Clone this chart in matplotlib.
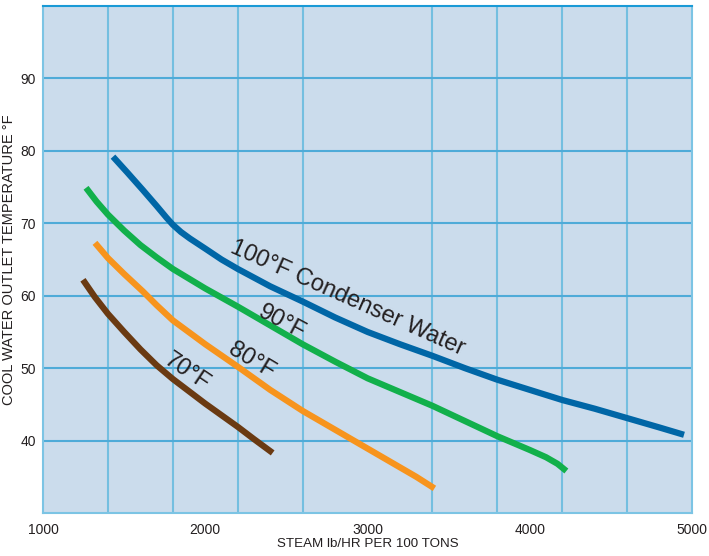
import matplotlib.pyplot as plt
import numpy as np

plt.rcParams['font.family'] = ['Liberation Sans', 'DejaVu Sans']

# values
x100 = [1431, 1520, 1615, 1700, 1760, 1800, 1850, 1905, 2000, 2100, 2200, 2400, 2600,
        2800, 3000, 3200, 3400, 3600, 3800, 4000, 4200, 4400, 4600, 4800, 4950]
y100 = [79.2, 77.0, 74.6, 72.4, 70.8, 69.8, 68.8, 67.9, 66.5, 65.0, 63.7, 61.3, 59.2,
        57.0, 55.0, 53.3, 51.7, 50.0, 48.4, 47.0, 45.6, 44.4, 43.1, 41.8, 40.8]

x90 = [1265, 1330, 1400, 1500, 1600, 1700, 1800, 2000, 2200, 2400, 2600, 2800,
       3000, 3200, 3400, 3600, 3800, 4000, 4100, 4170, 4225]
y90 = [74.9, 73.0, 71.2, 69.0, 67.0, 65.3, 63.7, 61.0, 58.5, 55.9, 53.3, 50.9,
       48.6, 46.7, 44.8, 42.7, 40.6, 38.7, 37.7, 36.8, 35.8]

x80 = [1320, 1400, 1500, 1615, 1700, 1800, 2000, 2200, 2400, 2600, 2800, 3000,
       3200, 3300, 3412]
y80 = [67.3, 65.2, 63.0, 60.6, 58.7, 56.6, 53.3, 50.2, 47.0, 44.1, 41.5, 38.9,
       36.3, 35.0, 33.4]

x70 = [1246, 1320, 1400, 1500, 1600, 1700, 1800, 1900, 2000, 2100, 2200, 2300, 2415]
y70 = [62.2, 59.8, 57.5, 55.0, 52.6, 50.4, 48.5, 46.8, 45.1, 43.5, 41.9, 40.2, 38.3]

xticks = [1000, 2000, 3000, 4000, 5000]
yticks = [40, 50, 60, 70, 80, 90]

fig = plt.figure(figsize=(7.09, 5.56), dpi=100)
ax = fig.add_axes([0.0607, 0.0773, 0.9155, 0.9119])
ax.set_facecolor('#cbdcec')

ax.set_xlim(1000, 5000)
ax.set_ylim(30, 100)
ax.set_xticks(xticks)
ax.set_xticks(np.arange(1000, 5001, 400), minor=True)
ax.set_yticks(yticks)
ax.tick_params(which='both', length=0, labelsize=10, colors='#231f20')
ax.tick_params(axis='y', pad=5)
ax.tick_params(axis='x', pad=7)
ax.grid(which='minor', axis='x', color='#74bfe0', lw=1.5)
ax.grid(which='major', axis='y', color='#4fabd8', lw=1.5)
ax.set_axisbelow(True)

for s in ['left', 'right', 'bottom']:
    ax.spines[s].set_color('#7cc4e4')
    ax.spines[s].set_linewidth(1.5)
ax.spines['top'].set_color('#1a9ad6')
ax.spines['top'].set_linewidth(1.5)

style = dict(lw=4.5, solid_capstyle='butt', solid_joinstyle='round')
ax.plot(x100, y100, color='#0066a6', **style)
ax.plot(x90, y90, color='#12b04b', **style)
ax.plot(x80, y80, color='#f7941d', **style)
ax.plot(x70, y70, color='#6a3a12', **style)

lab = dict(fontsize=17, ha='center', va='center', color='#231f20', rotation_mode='anchor')
ax.text(2877, 59.6, '100°F Condenser Water', rotation=-24, **lab)
ax.text(2471, 56.3, '90°F', rotation=-28, **lab)
ax.text(2286, 51.0, '80°F', rotation=-31, **lab)
ax.text(1886, 49.4, '70°F', rotation=-34, **lab)

ax.set_xlabel('STEAM lb/HR PER 100 TONS', fontsize=9.6, color='#231f20', labelpad=1)
ax.set_ylabel('COOL WATER OUTLET TEMPERATURE °F', fontsize=10.5, color='#231f20', labelpad=3)

fig.savefig('out.png', dpi=100)
